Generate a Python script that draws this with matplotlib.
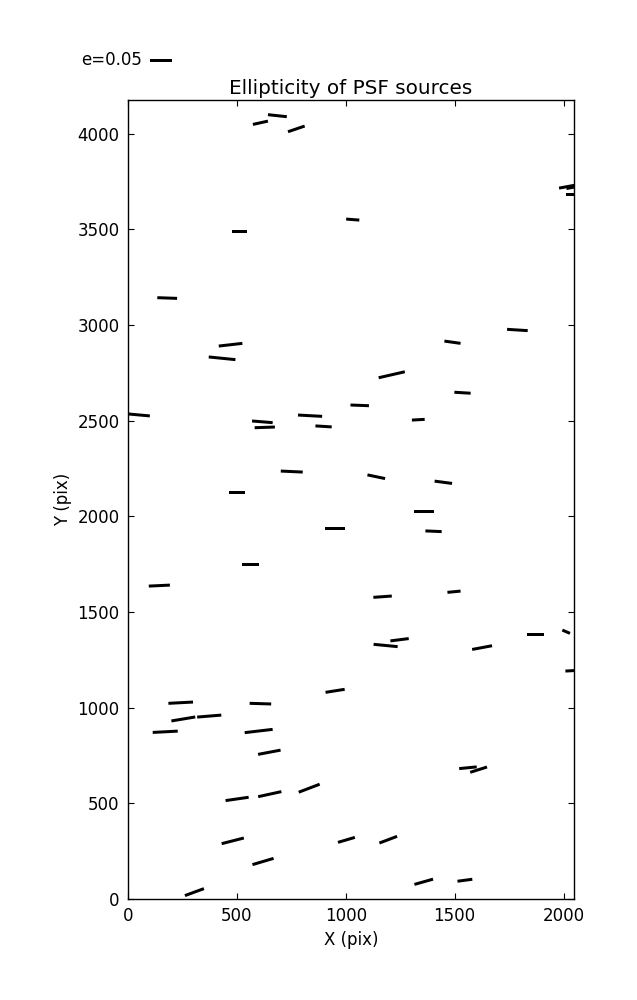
import numpy as np
import matplotlib
matplotlib.use("Agg")
import matplotlib.pyplot as plt

# Source positions (pix), ellipticity and position angle (deg)
x = [608, 686, 773, 513, 1032, 180, 2030, 2050, 2052, 471, 432, 50, 617, 628,
     836, 898, 1064, 752, 1788, 1490, 1211, 1536, 1333, 1140, 1448, 500, 950,
     562, 144, 1359, 1403, 1169, 1497, 1183, 1247, 1626, 1873, 2012, 2050, 951,
     242, 608, 254, 373, 171, 600, 649, 501, 651, 832, 481, 1003, 620, 305,
     1195, 1358, 1547, 1561, 1610]
y = [4057, 4094, 4025, 3491, 3551, 3141, 3726, 3721, 3684, 2897, 2826, 2530,
     2494, 2465, 2526, 2470, 2580, 2234, 2974, 2910, 2740, 2646, 2505, 2207,
     2178, 2124, 1935, 1746, 1638, 2026, 1922, 1580, 1606, 1325, 1355, 1314,
     1383, 1397, 1194, 1088, 1026, 1021, 941, 956, 874, 878, 767, 523, 548, 579,
     304, 309, 196, 36, 310, 90, 98, 686, 676]
e = [0.035, 0.043, 0.040, 0.034, 0.030, 0.045, 0.051, 0.037, 0.041, 0.054,
     0.061, 0.050, 0.047, 0.046, 0.055, 0.037, 0.042, 0.050, 0.047, 0.037,
     0.061, 0.037, 0.029, 0.041, 0.040, 0.037, 0.044, 0.040, 0.048, 0.044,
     0.037, 0.042, 0.030, 0.055, 0.042, 0.046, 0.039, 0.019, 0.041, 0.044,
     0.056, 0.049, 0.055, 0.055, 0.057, 0.064, 0.052, 0.053, 0.054, 0.051,
     0.052, 0.040, 0.050, 0.046, 0.043, 0.044, 0.034, 0.040, 0.040]
theta = [12.4, -6.1, 18.8, 0.0, -4.4, -2.0, 10.3, 10.6, 0.0, 6.5, -5.8, -5.2,
         -4.7, 2.0, -3.1, -3.5, -2.2, -2.6, -3.6, -8.0, 12.9, -3.5, 3.2, -11.8,
         -7.6, 0.0, 0.0, 0.0, 2.7, 0.0, -2.5, 4.1, 5.6, -5.5, 7.2, 10.6, 0.0,
         -23.2, 3.2, 9.0, 3.0, -1.8, 9.5, 4.7, 3.0, 6.7, 10.7, 8.2, 12.3, 20.9,
         14.3, 16.4, 16.5, 20.2, 20.7, 15.8, 7.6, 5.6, 17.6]

key_e = 0.05
key_label = "e=0.05"
title = "Ellipticity of PSF sources"
xlabel = "X (pix)"
ylabel = "Y (pix)"
xlim = (0, 2048)
ylim = (0, 4176)
xticks = [0, 500, 1000, 1500, 2000]
yticks = [0, 500, 1000, 1500, 2000, 2500, 3000, 3500, 4000]

plt.rcParams['font.family'] = ['DejaVu Sans']
plt.rcParams['font.size'] = 12

fig = plt.figure(figsize=(6.37, 10), dpi=100, facecolor='white')
ax = fig.add_axes([128/637, 101/1000, 446/637, 799/1000])

th = np.deg2rad(np.array(theta))
ee = np.array(e)
u = ee * np.cos(th)
v = ee * np.sin(th)

q = ax.quiver(x, y, u, v, angles='uv', pivot='middle', headwidth=0,
              headlength=0, headaxislength=0, units='inches', width=0.03,
              scale=key_e / 0.22, scale_units='inches', color='k')
ax.quiverkey(q, 150/637, 0.94, key_e, key_label, labelpos='W',
             coordinates='figure', labelsep=0.085,
             fontproperties={'size': 12})

ax.set_xlim(*xlim)
ax.set_ylim(*ylim)
ax.set_xticks(xticks)
ax.set_yticks(yticks)
ax.tick_params(direction='in', top=True, right=True, length=4, width=0.8,
               labelsize=12, pad=6)
for s in ax.spines.values():
    s.set_linewidth(1.0)
ax.set_title(title, fontsize=14.4, pad=4)
ax.set_xlabel(xlabel, fontsize=12)
ax.set_ylabel(ylabel, fontsize=12)

fig.savefig("out.png", dpi=100, facecolor='white')
